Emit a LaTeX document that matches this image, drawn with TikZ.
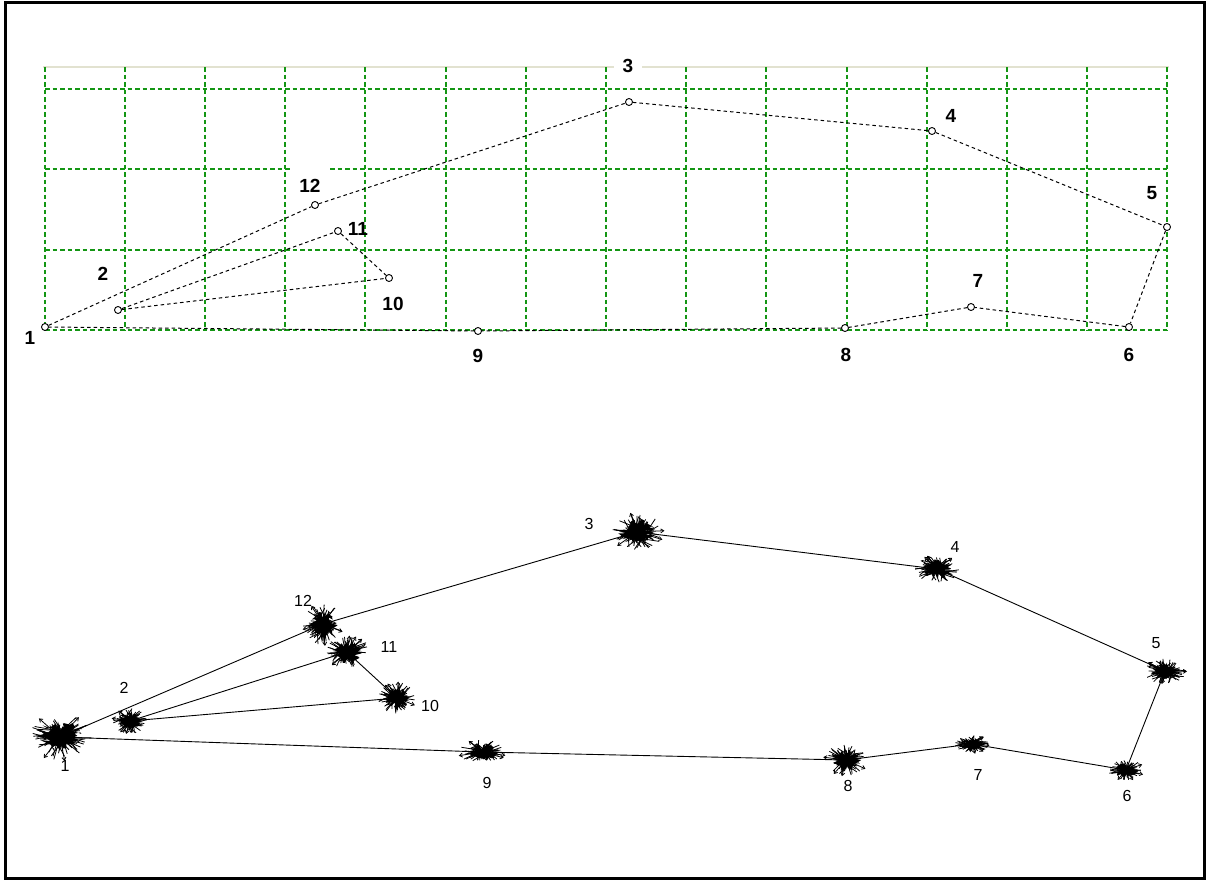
\documentclass[tikz,border=0pt]{standalone}
\usepackage{fontspec}
\setmainfont{Liberation Sans}
\usetikzlibrary{calc,arrows.meta}
\definecolor{gridgreen}{RGB}{20,150,20}
\definecolor{rulebeige}{RGB}{226,226,208}

% a scattered cluster of short strokes round a point:
% #1 centre, #2 half width, #3 half height, #4 seed
\newcommand\burst[4]{%
  \pgfmathsetseed{#4}%
  \fill[shift={(#1)}] plot[domain=0:355, samples=52, variable=\t]
    ({#2*(0.3+0.5*rnd)*cos(\t)}, {#3*(0.3+0.5*rnd)*sin(\t)}) -- cycle;
  \foreach \k in {1,...,60}{%
    \pgfmathsetmacro\aa{360*rnd}%
    \pgfmathsetmacro\ra{0.4*rnd}%
    \pgfmathsetmacro\ab{360*rnd}%
    \pgfmathsetmacro\rb{0.5+0.55*rnd}%
    \draw[spike] ($(#1)+({#2*\ra*cos(\aa)},{#3*\ra*sin(\aa)})$) --
                 ($(#1)+({#2*\rb*cos(\ab)},{#3*\rb*sin(\ab)})$);
  }%
  \foreach \k in {1,...,4}{%
    \pgfmathsetmacro\ab{360*rnd}%
    \draw[spike,-{Straight Barb[length=3pt,width=4pt]}] (#1) --
       ($(#1)+({#2*1.1*cos(\ab)},{#3*1.1*sin(\ab)})$);
  }%
}

\begin{document}
\begin{tikzpicture}[x=1pt,y=-1pt,
  gridline/.style={draw=gridgreen, line width=2pt, dash pattern=on 4.5pt off 3pt},
  dline/.style={draw=black, line width=1pt, dash pattern=on 3.5pt off 3pt},
  link/.style={draw=black, line width=0.9pt},
  spike/.style={draw=black, line width=0.8pt},
  pt/.style={circle, draw=black, fill=white, inner sep=0pt, minimum size=7pt, line width=0.9pt},
  toplab/.style={font=\fontsize{19}{19}\selectfont\bfseries, inner sep=1pt},
  botlab/.style={font=\fontsize{16}{16}\selectfont, inner sep=1pt}]

\useasboundingbox (0,0) rectangle (1208,881);
\draw[line width=3pt] (5,2.5) rectangle (1204.5,878.5);

% ---------- upper plan: grid ----------
\draw[rulebeige, line width=1.2pt] (43,67) -- (1169,67);
\foreach \gx in {45,125,205,285,365,446,526,606,686,766,847,927,1007,1087,1167}
  \draw[gridline] (\gx,67) -- (\gx,331);
\foreach \gy in {89,169,250,330}
  \draw[gridline] (45,\gy) -- (1168,\gy);

% labels of the upper plan
\node[toplab] (l1)  at (30,338) {1};
\node[toplab] (l2)  at (103,274) {2};
\node[toplab, fill=white, minimum width=40pt, minimum height=38pt] (l12) at (310,186) {12};
\node[toplab] (l11) at (358,229) {11};
\node[toplab] (l10) at (393,304) {10};
\node[toplab, fill=white, minimum width=28pt] (l3) at (628,66) {3};
\node[toplab] (l4)  at (951,116) {4};
\node[toplab] (l5)  at (1152,193) {5};
\node[toplab] (l7)  at (978,281) {7};
\node[toplab] (l9)  at (478,356) {9};
\node[toplab] (l8)  at (846,355) {8};
\node[toplab] (l6)  at (1129,355) {6};

% stations of the upper plan
\node[pt] (t1)  at (45,327) {};
\node[pt] (t2)  at (118,310) {};
\node[pt] (t12) at (315,205) {};
\node[pt] (t11) at (338,231) {};
\node[pt] (t10) at (389,278) {};
\node[pt] (t3)  at (629,102) {};
\node[pt] (t4)  at (932,131) {};
\node[pt] (t5)  at (1167,227) {};
\node[pt] (t6)  at (1129,327) {};
\node[pt] (t7)  at (971,307) {};
\node[pt] (t8)  at (845,328) {};
\node[pt] (t9)  at (478,331) {};

\draw[dline] (t1) -- (t12);
\draw[dline] (t12) -- (t3);
\draw[dline] (t3) -- (t4);
\draw[dline] (t4) -- (t5);
\draw[dline] (t5) -- (t6);
\draw[dline] (t6) -- (t7);
\draw[dline] (t7) -- (t8);
\draw[dline] (t8) -- (t9);
\draw[dline] (t9) -- (t1);
\draw[dline] (t2) -- (t11);
\draw[dline] (t2) -- (t10);
\draw[dline] (t11) -- (t10);

% ---------- lower network ----------
\coordinate (b1)  at (60,737);
\coordinate (b2)  at (130,721);
\coordinate (b12) at (323,624);
\coordinate (b11) at (347,652);
\coordinate (b10) at (397,698);
\coordinate (b3)  at (637,532);
\coordinate (b4)  at (937,569);
\coordinate (b5)  at (1165,671);
\coordinate (b6)  at (1126,770);
\coordinate (b7)  at (972,744);
\coordinate (b8)  at (846,760);
\coordinate (b9)  at (482,752);

\draw[link] (b1) -- (b12);
\draw[link] (b12) -- (b3);
\draw[link] (b3) -- (b4);
\draw[link] (b4) -- (b5);
\draw[link] (b5) -- (b6);
\draw[link] (b6) -- (b7);
\draw[link] (b7) -- (b8);
\draw[link] (b8) -- (b9);
\draw[link] (b9) -- (b1);
\draw[link] (b2) -- (b11);
\draw[link] (b2) -- (b10);
\draw[link] (b11) -- (b10);

\burst{b1}{30}{22}{11}
\burst{b2}{17}{12}{12}
\burst{b12}{19}{20}{13}
\burst{b11}{23}{15}{14}
\burst{b10}{18}{15}{15}
\burst{b3}{25}{18}{16}
\burst{b4}{22}{13}{17}
\burst{b5}{20}{12}{18}
\burst{b6}{17}{10}{19}
\burst{b7}{16}{9}{20}
\burst{b8}{21}{15}{21}
\burst{b9}{22}{12}{22}

\node[botlab] (m1)  at (65,766) {1};
\node[botlab] (m2)  at (124,688) {2};
\node[botlab] (m12) at (303,601) {12};
\node[botlab] (m11) at (389,647) {11};
\node[botlab] (m10) at (430,706) {10};
\node[botlab] (m3)  at (589,524) {3};
\node[botlab] (m4)  at (955,547) {4};
\node[botlab] (m5)  at (1156,643) {5};
\node[botlab] (m6)  at (1127,796) {6};
\node[botlab] (m7)  at (978,775) {7};
\node[botlab] (m8)  at (848,786) {8};
\node[botlab] (m9)  at (487,783) {9};
\end{tikzpicture}
\end{document}
